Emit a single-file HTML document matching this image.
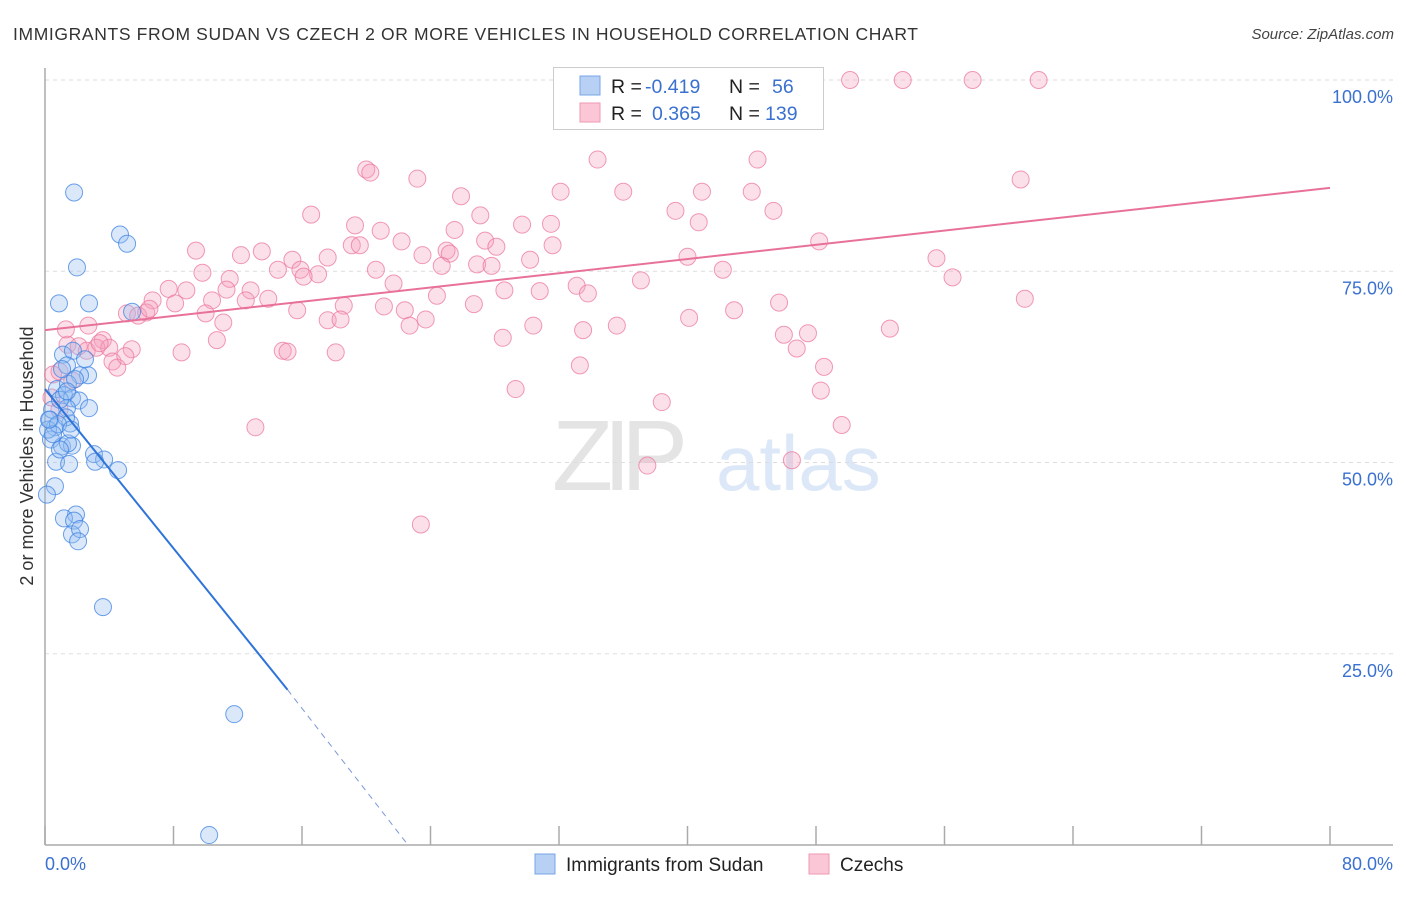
<!DOCTYPE html>
<html><head><meta charset="utf-8"><style>
body{margin:0;background:#fff;font-family:"Liberation Sans",sans-serif;}
svg text{font-family:"Liberation Sans",sans-serif;}
</style></head><body>
<svg id="chart" width="1406" height="892" viewBox="0 0 1406 892" xmlns="http://www.w3.org/2000/svg">
<text x="13" y="40" font-size="17.5" fill="#333" textLength="905">IMMIGRANTS FROM SUDAN VS CZECH 2 OR MORE VEHICLES IN HOUSEHOLD CORRELATION CHART</text>
<text x="1394" y="39" font-size="15" fill="#444" font-style="italic" text-anchor="end">Source: ZipAtlas.com</text>
<g>
<text x="552" y="490" font-family="Liberation Serif,serif" font-size="100" fill="#e4e4e4" textLength="136">ZIP</text>
<text x="716" y="490" font-size="78" fill="#dce8f7">atlas</text>
</g>
<g id="grid"></g>
<g id="axes"></g>
<g id="pink"></g>
<g id="blue"></g>
<g id="lines"></g>
<text x="33" y="456" font-size="18" fill="#333" text-anchor="middle" transform="rotate(-90 33 456)">2 or more Vehicles in Household</text>
<text x="45" y="870" font-size="18" fill="#3a70d0">0.0%</text>
<text x="1393" y="870" font-size="18" fill="#3a70d0" text-anchor="end">80.0%</text>
<g>
<rect x="553.5" y="67.5" width="270" height="62" fill="#fff" stroke="#ccc"/>
<rect x="580" y="76" width="20" height="19" fill="#b7d0f4" stroke="#7aa6e6"/>
<rect x="580" y="103" width="20" height="19" fill="#fbc6d5" stroke="#ef9ab4"/>
<text font-size="19.5" fill="#222"><tspan x="611" y="93">R = </tspan><tspan x="729" y="93">N = </tspan><tspan x="611" y="120">R = </tspan><tspan x="729" y="120">N = </tspan></text>
<text font-size="19.5" fill="#3a70d0"><tspan x="645" y="93">-0.419</tspan><tspan x="772" y="93">56</tspan><tspan x="652" y="120">0.365</tspan><tspan x="765" y="120">139</tspan></text>
</g>
<g>
<rect x="535" y="854" width="20" height="20" fill="#b7d0f4" stroke="#7aa6e6"/>
<text x="566" y="871" font-size="19" fill="#222">Immigrants from Sudan</text>
<rect x="809" y="854" width="20" height="20" fill="#fbc6d5" stroke="#ef9ab4"/>
<text x="840" y="871" font-size="19" fill="#222">Czechs</text>
</g>
</svg>
<script>
const yTicks=[25,50,75,100];
const yTickLabels=["25.0%","50.0%","75.0%","100.0%"];
const xTicks=[0,8,16,24,32,40,48,56,64,72,80];
const blueX=[1.81,4.67,5.11,1.99,0.87,2.74,5.42,1.12,1.74,1.37,2.68,2.18,0.75,1.43,1.18,1.68,2.12,2.74,1.37,0.31,1.56,0.62,0.37,1.06,1.68,1.43,3.05,3.68,3.12,0.69,1.5,4.55,0.62,0.12,1.93,1.18,1.81,1.68,2.18,2.06,3.61,11.78,10.22,0.44,0.93,0.19,1.31,0.81,1.87,1.06,0.5,0.25,0.93,2.49,1.62,1.37];
const blueY=[85.3,79.8,78.6,75.5,70.8,70.8,69.7,64.1,64.6,62.7,61.4,61.4,59.6,60.3,58.8,58.4,58.1,57.1,57.1,55.6,55.1,54.6,53.0,52.1,52.2,52.5,51.1,50.4,50.1,50.1,49.8,49.0,46.9,45.8,43.2,42.7,42.4,40.6,41.3,39.7,31.1,17.1,1.3,56.9,58.2,54.3,55.9,55.0,60.9,62.2,53.7,55.6,51.7,63.5,54.3,59.3];
const pinkX=[41.65,50.12,53.4,57.75,61.86,34.4,44.36,20.0,20.25,23.18,60.74,25.9,32.1,36.0,40.9,44.0,16.57,39.25,45.35,27.1,19.3,25.5,29.7,31.5,40.7,20.9,22.2,27.4,9.4,19.1,19.6,25.0,28.1,31.6,48.2,12.2,13.5,15.4,17.6,23.5,25.2,40.0,55.5,24.7,26.9,27.8,30.2,9.8,14.5,15.9,17.0,20.6,42.2,11.5,16.1,37.1,56.5,7.7,8.8,11.3,12.8,21.7,24.4,28.6,30.8,33.1,33.8,6.7,8.1,10.4,12.5,13.9,18.6,26.7,61.0,45.7,5.1,5.8,6.3,10.0,15.7,21.1,22.4,23.7,40.1,42.9,2.7,11.1,17.6,18.4,22.7,30.4,33.5,35.6,52.6,3.6,10.7,28.5,46.0,47.5,1.4,2.1,2.6,3.2,4.0,5.4,8.5,14.8,15.1,18.1,46.8,4.2,4.5,5.0,33.3,48.5,0.5,0.9,1.7,29.3,48.3,38.4,13.1,49.6,37.5,46.5,23.4,0.9,0.4,1.3,6.5,3.4];
const pinkY=[100,100,100,100,100,89.6,89.6,88.3,87.9,87.1,87.0,84.8,85.4,85.4,85.4,85.4,82.4,82.9,82.9,82.3,81.0,80.4,81.1,81.2,81.4,80.3,78.9,79.0,77.7,78.4,78.4,77.7,78.2,78.4,78.9,77.1,77.6,76.5,76.8,77.1,77.3,76.9,76.7,75.7,75.9,75.7,76.5,74.8,75.2,75.2,74.6,75.2,75.2,74.0,74.3,73.8,74.2,72.7,72.5,72.6,72.5,73.4,71.8,72.5,72.4,73.1,72.1,71.2,70.8,71.2,71.2,71.4,70.5,70.7,71.4,70.9,69.5,69.2,69.6,69.5,69.9,70.4,69.9,68.7,68.9,69.9,67.9,68.3,68.6,68.7,67.9,67.9,67.3,67.9,67.5,66.0,66.0,66.3,66.7,66.9,65.4,65.2,64.6,65.0,65.0,64.8,64.4,64.6,64.5,64.4,64.9,63.2,62.4,63.9,62.7,62.5,61.5,61.9,60.7,59.6,59.4,57.9,54.6,54.9,49.6,50.3,41.9,56.9,58.5,67.4,70.1,65.6];
const blueLine=[[0,59.6],[15.1,20.3]],blueDash=[[15.1,20.3],[22.6,0]];
const pinkLine=[[0,67.3],[80,85.9]];
const X0=45,X1=1330,Y0=845,Y1=80;
const sx=v=>X0+v/80*(X1-X0), sy=v=>Y0-v/100*(Y0-Y1);
const NS="http://www.w3.org/2000/svg";
function mk(tag,attrs,parent){const e=document.createElementNS(NS,tag);for(const k in attrs)e.setAttribute(k,attrs[k]);document.getElementById(parent).appendChild(e);return e;}
yTicks.forEach((t,i)=>{
 const g=mk('line',{x1:X0,x2:1393,y1:sy(t),y2:sy(t),stroke:'#ddd','stroke-dasharray':'4,4'},'grid');
 
 
 const l=mk('text',{x:1393,y:sy(t)+23,'font-size':18,fill:'#3a70d0','text-anchor':'end'},'grid');
 l.textContent=yTickLabels[i];
 
 
});
const ax=mk('line',{x1:X0,x2:X0,y1:68,y2:Y0,stroke:'#aaa','stroke-width':1.5},'axes');


const bx=mk('line',{x1:X0,x2:1393,y1:Y0,y2:Y0,stroke:'#aaa','stroke-width':1.5},'axes');


xTicks.forEach(t=>{const k=mk('line',{x1:sx(t),x2:sx(t),y1:826,y2:Y0,stroke:'#aaa','stroke-width':1.5},'axes');
 
 });
pinkX.forEach((v,i)=>{const c=mk('circle',{cx:sx(v),cy:sy(pinkY[i]),r:8.5,fill:'rgba(246,160,186,0.32)',stroke:'rgba(236,120,158,0.75)','stroke-width':1},'pink');
 
 });
blueX.forEach((v,i)=>{const c=mk('circle',{cx:sx(v),cy:sy(blueY[i]),r:8.5,fill:'rgba(150,190,240,0.35)',stroke:'rgba(60,130,225,0.75)','stroke-width':1},'blue');
 
 });
const pl=mk('line',{x1:sx(pinkLine[0][0]),y1:sy(pinkLine[0][1]),x2:sx(pinkLine[1][0]),y2:sy(pinkLine[1][1]),stroke:'#e8719a','stroke-width':2},'lines');


const bl=mk('line',{x1:sx(blueLine[0][0]),y1:sy(blueLine[0][1]),x2:sx(blueLine[1][0]),y2:sy(blueLine[1][1]),stroke:'#2f74d8','stroke-width':2},'lines');


const bd=mk('line',{x1:sx(blueDash[0][0]),y1:sy(blueDash[0][1]),x2:sx(blueDash[1][0]),y2:sy(blueDash[1][1]),stroke:'#7b97d8','stroke-width':1,'stroke-dasharray':'6,5'},'lines');


</script>
</body></html>
